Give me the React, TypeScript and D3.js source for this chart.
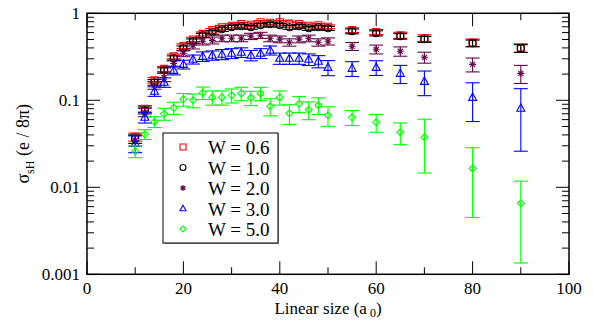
import React from "react";
import * as d3 from "d3";

const sizes = [10,12,14,16,18,20,22,24,26,28,30,32,34,36,38,40,42,44,46,48,50,55,60,65,70,80,90];

const w06 = [0.038,0.080,0.17,0.23,0.32,0.42,0.50,0.58,0.64,0.69,0.72,0.75,0.74,0.79,0.78,0.79,0.76,0.75,0.72,0.73,0.70,0.64,0.61,0.56,0.52,0.46,0.40];
const w06Err = [0.004,0.007,0.012,0.015,0.02,0.025,0.03,0.03,0.03,0.035,0.035,0.035,0.035,0.035,0.035,0.035,0.035,0.035,0.035,0.035,0.035,0.04,0.04,0.045,0.045,0.045,0.045];

const w10 = [0.036,0.0767,0.161,0.221,0.304,0.396,0.477,0.559,0.605,0.655,0.690,0.709,0.690,0.728,0.747,0.728,0.690,0.709,0.672,0.690,0.672,0.621,0.589,0.544,0.503,0.452,0.396];
const w10Err = [0.004,0.007,0.012,0.015,0.02,0.025,0.03,0.03,0.03,0.035,0.035,0.035,0.035,0.035,0.035,0.035,0.035,0.035,0.035,0.035,0.035,0.04,0.04,0.04,0.04,0.04,0.04];

const w20 = [0.0347,0.0728,0.149,0.184,0.266,0.347,0.429,0.477,0.489,0.516,0.516,0.516,0.544,0.559,0.516,0.503,0.464,0.503,0.516,0.464,0.477,0.418,0.386,0.366,0.312,0.259,0.204];
const w20Err = [0.005,0.008,0.015,0.02,0.025,0.03,0.04,0.045,0.045,0.045,0.045,0.045,0.045,0.045,0.045,0.045,0.045,0.045,0.045,0.045,0.045,0.044,0.045,0.045,0.045,0.047,0.048];

const w30 = [0.032,0.0638,0.127,0.161,0.221,0.259,0.296,0.320,0.329,0.338,0.347,0.356,0.329,0.347,0.376,0.304,0.304,0.304,0.296,0.281,0.239,0.233,0.239,0.204,0.165,0.108,0.081];
const w30Err = [0.007,0.009,0.016,0.02,0.025,0.03,0.035,0.04,0.04,0.045,0.045,0.045,0.045,0.045,0.045,0.045,0.045,0.045,0.045,0.045,0.047,0.045,0.046,0.048,0.052,0.051,0.055];

const w50 = [0.0259,0.0407,0.0566,0.070,0.082,0.1026,0.100,0.122,0.108,0.108,0.114,0.120,0.107,0.120,0.0853,0.108,0.0709,0.0912,0.0778,0.0877,0.0672,0.0638,0.0559,0.0429,0.0376,0.0165,0.00655];
const w50Err = [0.004,0.0053,0.008,0.011,0.013,0.017,0.018,0.02,0.02,0.02,0.021,0.021,0.02,0.021,0.019,0.02,0.018,0.019,0.018,0.019,0.017,0.0125,0.013,0.012,0.023,0.012,0.0052];

const xTicks = [0, 20, 40, 60, 80, 100];
const xMinorTicks = [10, 30, 50, 70, 90];
const yTicks = [0.001, 0.01, 0.1, 1];
const yTickLabels = ["0.001", "0.01", "0.1", "1"];
const legendLabels = ["W = 0.6", "W = 1.0", "W = 2.0", "W = 3.0", "W = 5.0"];

type Shape = "square" | "circle" | "star" | "triangle" | "diamond";

const series = [
  { vals: w06, errs: w06Err, color: "#ff0000", shape: "square" as Shape },
  { vals: w10, errs: w10Err, color: "#000000", shape: "circle" as Shape },
  { vals: w20, errs: w20Err, color: "#670748", shape: "star" as Shape },
  { vals: w30, errs: w30Err, color: "#0000ff", shape: "triangle" as Shape },
  { vals: w50, errs: w50Err, color: "#00ff00", shape: "diamond" as Shape },
];

const W = 593, H = 320;
const L = 87, R = 569, T = 13.3, B = 274.3;
const FONT = '"Liberation Serif", "Times New Roman", Times, "DejaVu Serif", serif';

function markerPath(shape: Shape, s: number): string {
  const h = s / 2;
  switch (shape) {
    case "square":
      return `M${-h},${-h}H${h}V${h}H${-h}Z`;
    case "circle":
      return `M${h},0A${h},${h} 0 1,1 ${-h},0A${h},${h} 0 1,1 ${h},0Z`;
    case "triangle":
      return `M0,${-h * 1.1}L${h},${h * 0.75}L${-h},${h * 0.75}Z`;
    case "diamond":
      return `M0,${-h}L${h},0L0,${h}L${-h},0Z`;
    case "star": {
      const a = h * 0.72;
      return `M${-h},0H${h}M0,${-h}V${h}M${-a},${-a}L${a},${a}M${-a},${a}L${a},${-a}`;
    }
  }
}

export default function App() {
  const x = d3.scaleLinear().domain([0, 100]).range([L, R]);
  const y = d3.scaleLog().domain([0.001, 1]).range([B, T]);

  const minorY: number[] = [];
  for (let e = -3; e < 0; e++) {
    for (let m = 2; m <= 9; m++) minorY.push(m * Math.pow(10, e));
  }

  const cap = 7;
  const legendRows = [147, 167.5, 188, 208.5, 229];
  const textStyle = { fontFamily: FONT };

  return (
    <svg width={W} height={H} style={{ position: "absolute", left: 0, top: 0, background: "#fff" }}>
      <rect x={0} y={0} width={W} height={H} fill="#fff" />
      {series.map((s, si) => (
        <g key={si} stroke={s.color} fill="none" strokeWidth={1.1}>
          {sizes.map((sz, i) => {
            const cx = x(sz);
            const lo = Math.max(s.vals[i] - s.errs[i], 0.0011);
            const hi = s.vals[i] + s.errs[i];
            const y0 = y(lo), y1 = y(hi), cy = y(s.vals[i]);
            return (
              <g key={i}>
                <line x1={cx} x2={cx} y1={y0} y2={y1} />
                <line x1={cx - cap} x2={cx + cap} y1={y0} y2={y0} />
                <line x1={cx - cap} x2={cx + cap} y1={y1} y2={y1} />
                <path d={markerPath(s.shape, s.shape === "triangle" ? 8 : 7)} transform={`translate(${cx},${cy})`} />
              </g>
            );
          })}
        </g>
      ))}

      <rect x={L} y={T} width={R - L} height={B - T} fill="none" stroke="#000" strokeWidth={1.5} />

      <g stroke="#000" strokeWidth={1}>
        {xTicks.map((t) => (
          <g key={t}>
            <line x1={x(t)} x2={x(t)} y1={B} y2={B - 13} />
            <line x1={x(t)} x2={x(t)} y1={T} y2={T + 13} />
          </g>
        ))}
        {xMinorTicks.map((t) => (
          <g key={t}>
            <line x1={x(t)} x2={x(t)} y1={B} y2={B - 7} />
            <line x1={x(t)} x2={x(t)} y1={T} y2={T + 7} />
          </g>
        ))}
        {yTicks.map((t) => (
          <g key={t}>
            <line x1={L} x2={L + 13} y1={y(t)} y2={y(t)} />
            <line x1={R} x2={R - 13} y1={y(t)} y2={y(t)} />
          </g>
        ))}
        {minorY.map((t) => (
          <g key={t}>
            <line x1={L} x2={L + 7} y1={y(t)} y2={y(t)} />
            <line x1={R} x2={R - 7} y1={y(t)} y2={y(t)} />
          </g>
        ))}
      </g>

      <g style={textStyle} fontSize={17} fill="#000">
        {xTicks.map((t) => (
          <text key={t} x={x(t)} y={294} textAnchor="middle">{t}</text>
        ))}
        {yTicks.map((t, i) => (
          <text key={t} x={80} y={y(t) + 6} textAnchor="end">{yTickLabels[i]}</text>
        ))}
      </g>

      <text x={(L + R) / 2} y={314} textAnchor="middle" style={textStyle} fontSize={17}>
        Linear size (a<tspan dx={3} dy={3} fontSize={12}>0</tspan><tspan dy={-3}>)</tspan>
      </text>
      <text transform={`translate(29,${(T + B) / 2}) rotate(-90)`} textAnchor="middle" style={textStyle} fontSize={18}>
        σ<tspan dy={5} fontSize={12}>sH</tspan><tspan dy={-5}> (e / 8π)</tspan>
      </text>

      <rect x={164} y={134} width={115} height={110} fill="#999" />
      <rect x={163} y={133} width={115} height={110} fill="#fff" stroke="#000" strokeWidth={1} />
      {series.map((s, i) => (
        <g key={i}>
          <path d={markerPath(s.shape, 6)} transform={`translate(183,${legendRows[i]})`} fill="none" stroke={s.color} strokeWidth={1.1} />
          <text x={208} y={legendRows[i] + 7} style={textStyle} fontSize={19}>{legendLabels[i]}</text>
        </g>
      ))}
    </svg>
  );
}
